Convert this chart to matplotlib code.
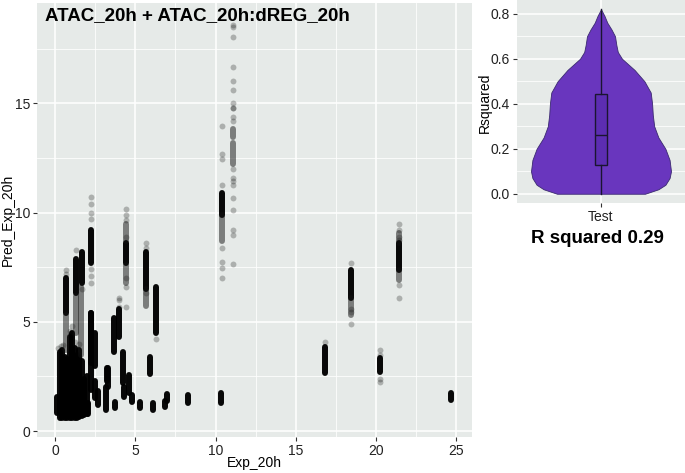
import matplotlib
matplotlib.use("Agg")
import matplotlib.pyplot as plt
import numpy as np

plt.rcParams['font.family'] = ['Liberation Sans', 'DejaVu Sans']

# ---- scatter data (Exp_20h vs Pred_Exp_20h) ----
# dense columns: many overlapping points -> solid bars
dense_x = [0.12, 0.3, 0.45, 0.6, 0.75, 0.9, 1.05, 1.2, 1.35, 1.5, 1.65, 1.8, 1.95, 2.05,
           0.66, 1.29, 1.66, 2.25, 2.2, 2.5, 2.23, 2.5, 2.66, 3.14, 3.2, 3.27, 3.66, 3.7,
           3.95, 4.25, 4.27, 4.43, 4.6, 4.79, 5.27, 5.64, 5.94, 6.1, 6.27, 6.87, 6.98,
           8.27, 10.37, 10.43, 16.83, 18.42, 20.23, 21.43, 24.7]
dense_lo = [0.85, 0.6, 0.6, 0.6, 0.6, 0.6, 0.6, 0.6, 0.6, 0.65, 0.7, 0.75, 0.8, 0.8,
            5.4, 6.3, 6.8, 7.7, 3.1, 3.0, 1.9, 1.5, 1.2, 0.96, 2.3, 2.0, 3.6, 1.05,
            4.3, 2.2, 1.57, 7.7, 1.73, 1.33, 1.05, 6.5, 2.6, 0.96, 4.5, 1.1, 1.4,
            1.27, 1.3, 9.9, 2.65, 6.08, 2.7, 7.36, 1.42]
dense_hi = [1.55, 3.6, 3.7, 3.4, 3.3, 4.3, 4.5, 3.8, 3.5, 3.7, 3.2, 2.4, 2.5, 1.3,
            7.0, 7.9, 8.2, 9.2, 5.4, 4.5, 5.4, 2.3, 1.85, 2.0, 2.9, 2.9, 5.2, 1.33,
            5.6, 3.6, 2.0, 8.6, 2.56, 1.65, 1.33, 8.2, 3.4, 1.28, 6.6, 1.4, 1.7,
            1.65, 1.73, 10.9, 3.84, 7.36, 3.34, 8.6, 1.76]

# medium density columns
mid_x = [1.29, 1.62, 0.64, 4.43, 4.43, 10.43, 11.06, 11.06, 21.43, 21.43, 18.42, 5.64]
mid_lo = [4.5, 3.5, 3.7, 8.7, 6.8, 8.7, 12.25, 13.45, 8.6, 6.9, 5.3, 5.75]
mid_hi = [6.2, 6.6, 5.3, 9.5, 7.6, 9.9, 13.2, 13.85, 9.05, 7.36, 6.08, 6.5]

# individually visible points
pts_x = [0.66, 0.66, 1.29, 1.66, 2.25, 2.25, 2.25, 2.25, 2.25, 2.25, 2.25,
         0.9, 0.95, 1.05, 0.35, 0.5, 0.2, 1.2, 1.5, 1.36,
         3.95, 3.95, 3.95, 4.43, 4.43, 4.43, 4.43, 4.43, 4.43, 4.43,
         5.64, 5.64, 5.64, 6.27,
         10.43, 10.43, 10.43, 10.43, 10.43, 10.43, 10.43, 10.43,
         11.06, 11.06, 11.06, 11.06, 11.06, 11.06, 11.06, 11.06, 11.06, 11.06,
         11.06, 11.06, 11.06, 11.06, 11.06, 11.06, 11.06, 11.06, 11.06, 11.06,
         16.83, 18.42, 18.42, 18.42, 18.42, 20.23, 20.23, 20.23, 20.23,
         21.43, 21.43, 21.43, 21.43, 21.43, 21.43]
pts_y = [7.36, 7.2, 8.3, 6.5, 10.7, 10.4, 10.0, 9.7, 7.4, 7.1, 6.8,
         4.6, 4.4, 4.8, 3.9, 3.95, 3.8, 4.1, 4.0, 3.7,
         6.0, 6.1, 5.7, 10.15, 9.65, 9.9, 7.0, 6.6, 5.7, 8.9,
         8.6, 8.4, 6.3, 4.2,
         13.96, 12.67, 12.44, 11.25, 8.4, 7.74, 7.47, 7.0,
         18.6, 18.5, 18.06, 16.66, 16.05, 15.6, 15.0, 14.77, 14.77, 14.37,
         14.2, 12.0, 11.6, 11.45, 11.25, 10.65, 10.1, 9.2, 9.0, 7.64,
         4.07, 7.7, 5.6, 5.45, 4.89, 3.7, 3.5, 2.4, 2.25,
         9.5, 9.2, 8.9, 6.68, 6.1, 8.75]

# ---- violin data (Rsquared, Test) ----
violin_y = [0.0, 0.02, 0.04, 0.07, 0.10, 0.15, 0.20, 0.25, 0.30, 0.35, 0.40, 0.45,
            0.50, 0.55, 0.60, 0.63, 0.66, 0.70, 0.73, 0.76, 0.79, 0.82]
violin_hw = [0.314, 0.41, 0.46, 0.49, 0.50, 0.49, 0.46, 0.41, 0.38, 0.37, 0.365, 0.355,
             0.31, 0.24, 0.15, 0.12, 0.11, 0.10, 0.075, 0.045, 0.025, 0.0]
box_stats = dict(whislo=0.0, q1=0.126, med=0.26, q3=0.444, whishi=0.82)
r_squared = 0.29

BG = '#E6EAE8'
PURPLE = '#6936BE'

fig = plt.figure(figsize=(6.85, 4.73), dpi=100)


def style_axes(ax):
    ax.set_facecolor(BG)
    for s in ax.spines.values():
        s.set_visible(False)
    ax.set_axisbelow(True)
    ax.grid(which='major', color='white', linewidth=1.1)
    ax.grid(which='minor', color='white', linewidth=0.55)
    ax.tick_params(which='major', length=3, width=0.8, color='#333333',
                   labelsize=10, labelcolor='#222222', pad=2)
    ax.tick_params(which='minor', length=0)


# scatter panel
ax = fig.add_axes([37 / 685, 36 / 473, 435 / 685, 434 / 473])
style_axes(ax)
ax.set_xlim(-1.14, 26.0)
ax.set_ylim(-0.27, 19.6)
ax.set_xticks([0, 5, 10, 15, 20, 25])
ax.set_xticks([2.5, 7.5, 12.5, 17.5, 22.5], minor=True)
ax.set_yticks([0, 5, 10, 15])
ax.set_yticks([2.5, 7.5, 12.5, 17.5], minor=True)

dl = ax.vlines(dense_x, dense_lo, dense_hi, color='black', alpha=0.97, linewidth=4.3)
dl.set_capstyle('round')
ml = ax.vlines(mid_x, mid_lo, mid_hi, color='#111111', alpha=0.5, linewidth=4.3)
ml.set_capstyle('round')
ax.scatter(pts_x, pts_y, s=18, color='black', alpha=0.25, linewidths=0)

ax.text(0.018, 0.972, 'ATAC_20h + ATAC_20h:dREG_20h', transform=ax.transAxes,
        fontsize=13.5, fontweight='bold', va='center', ha='left')
fig.text(8 / 685, 1 - 220 / 473, 'Pred_Exp_20h', rotation=90, fontsize=10,
         ha='center', va='center')
fig.text(254.5 / 685, 1 - 463 / 473, 'Exp_20h', fontsize=10, ha='center', va='center')

# violin panel
av = fig.add_axes([517 / 685, 270 / 473, 168 / 685, 203 / 473])
style_axes(av)
av.set_ylim(-0.041, 0.861)
av.set_yticks([0.0, 0.2, 0.4, 0.6, 0.8])
av.set_yticklabels(['0.0', '0.2', '0.4', '0.6', '0.8'])
av.set_yticks([0.1, 0.3, 0.5, 0.7], minor=True)
av.grid(which='minor', axis='x', visible=False)

vy = np.array(violin_y)
vw = np.array(violin_hw)
av.fill_betweenx(vy, 1 - vw, 1 + vw, facecolor=PURPLE, edgecolor='#3b2a70', linewidth=0.6)
av.bxp([box_stats], positions=[1], widths=0.085, showfliers=False, showcaps=False,
       patch_artist=True,
       boxprops=dict(facecolor='#5c2db2', edgecolor='#1a1530', linewidth=1.0),
       medianprops=dict(color='#1a1530', linewidth=1.0),
       whiskerprops=dict(color='#1a1530', linewidth=1.0))
av.set_xticks([1])
av.set_xticklabels(['Test'])
av.set_xlim(0.4, 1.6)

fig.text(485 / 685, 1 - 103 / 473, 'Rsquared', rotation=90, fontsize=10,
         ha='center', va='center')
fig.text(597 / 685, 1 - 238 / 473, f'R squared {r_squared:.2f}', fontsize=13.5,
         fontweight='bold', ha='center', va='center')

fig.savefig('out.png', dpi=100)
